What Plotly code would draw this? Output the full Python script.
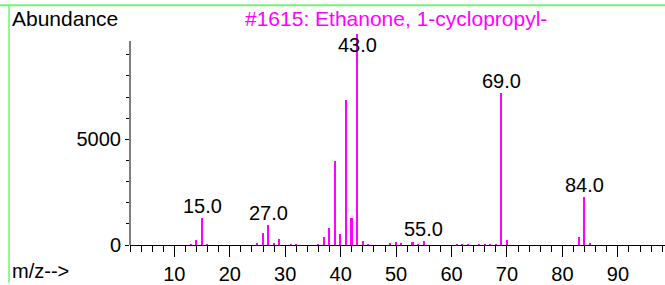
import plotly.graph_objects as go

# ---- data ----
mz = [13, 14, 15, 16, 25, 26, 27, 28, 29, 31, 32, 36, 37, 38, 39, 40, 41, 42, 43, 44, 45,
      49, 50, 51, 53, 54, 55, 61, 62, 63, 65, 66, 67, 68, 69, 70, 83, 84, 85]
abundance = [30, 250, 1270, 30, 80, 560, 950, 100, 270, 20, 20, 40, 360, 790, 3980, 500, 6850, 1300, 10000, 200, 30,
             50, 130, 90, 140, 30, 210, 40, 30, 20, 20, 20, 20, 20, 7180, 240, 370, 2290, 90]
labeled_mz = [15, 27, 43, 55, 69, 84]
y_tick_vals = [0, 5000]
x_tick_vals = [10, 20, 30, 40, 50, 60, 70, 80, 90]
title_text = "#1615: Ethanone, 1-cyclopropyl-"

# ---- layout constants ----
W, H = 665, 285
L, R, T, B = 130, 0, 23, 38
PW, PH = W - L - R, H - T - B
FONT = "Liberation Sans, Arial, sans-serif"
MAG = "#ff00ff"
GREEN = "#74f274"
LABEL_CAP = 8900
AXIS_TOP = 9650


def px_x(px):
    return (px - L) / PW


def px_y(py):
    return (H - B - py) / PH


fig = go.Figure()
fig.add_trace(go.Bar(x=mz, y=abundance, width=0.28, marker=dict(color=MAG, line=dict(width=0)),
                     hoverinfo="x+y"))

ab_map = dict(zip(mz, abundance))
for m in labeled_mz:
    fig.add_annotation(x=m, y=min(ab_map[m], LABEL_CAP), text=f"{m:.1f}", showarrow=False,
                       yanchor="bottom", xanchor="center", yshift=-1,
                       font=dict(family=FONT, size=20, color="black"))

# y-axis line (partial height)
fig.add_shape(type="line", xref="paper", yref="y", x0=0, x1=0, y0=0, y1=AXIS_TOP,
              line=dict(color="black", width=1))
# green frame lines
fig.add_shape(type="line", xref="paper", yref="paper", x0=px_x(0), x1=px_x(W), y0=px_y(5), y1=px_y(5),
              line=dict(color=GREEN, width=2))
fig.add_shape(type="line", xref="paper", yref="paper", x0=px_x(9), x1=px_x(9), y0=px_y(5), y1=px_y(H),
              line=dict(color=GREEN, width=1.5))

fig.add_annotation(xref="paper", yref="paper", x=px_x(10), y=px_y(18), text="Abundance", showarrow=False,
                   xanchor="left", yanchor="middle", font=dict(family=FONT, size=21, color="black"))
fig.add_annotation(xref="paper", yref="paper", x=px_x(10), y=px_y(273), text="m/z-->", showarrow=False,
                   xanchor="left", yanchor="middle", font=dict(family=FONT, size=20, color="black"))
fig.add_annotation(xref="paper", yref="paper", x=px_x(396), y=px_y(18), text=title_text, showarrow=False,
                   xanchor="center", yanchor="middle", font=dict(family=FONT, size=21, color=MAG))

fig.update_layout(
    width=W, height=H, margin=dict(l=L, r=R, t=T, b=B, pad=0),
    paper_bgcolor="white", plot_bgcolor="white", showlegend=False, bargap=0,
    xaxis=dict(range=[2, 98.5], showgrid=False, zeroline=False, showline=True, linecolor="black", linewidth=1,
               tickvals=x_tick_vals, ticks="outside", ticklen=11, tickcolor="black", tickwidth=1,
               tickfont=dict(family=FONT, size=20, color="black"),
               minor=dict(dtick=2, tick0=0, ticks="outside", ticklen=6, tickcolor="black", tickwidth=1)),
    yaxis=dict(range=[0, 10500], showgrid=False, zeroline=False, showline=False,
               tickvals=y_tick_vals, ticks="outside", ticklen=4, tickcolor="black", tickwidth=1,
               tickfont=dict(family=FONT, size=20, color="black"),
               minor=dict(tickvals=[1000, 2000, 3000, 4000, 6000, 7000, 8000, 9000], ticks="outside",
                          ticklen=3, tickcolor="black", tickwidth=1)),
)

fig.write_html("out.html", config={"displayModeBar": False},
               post_script="document.body.style.margin='0px';document.body.style.overflow='hidden';")
